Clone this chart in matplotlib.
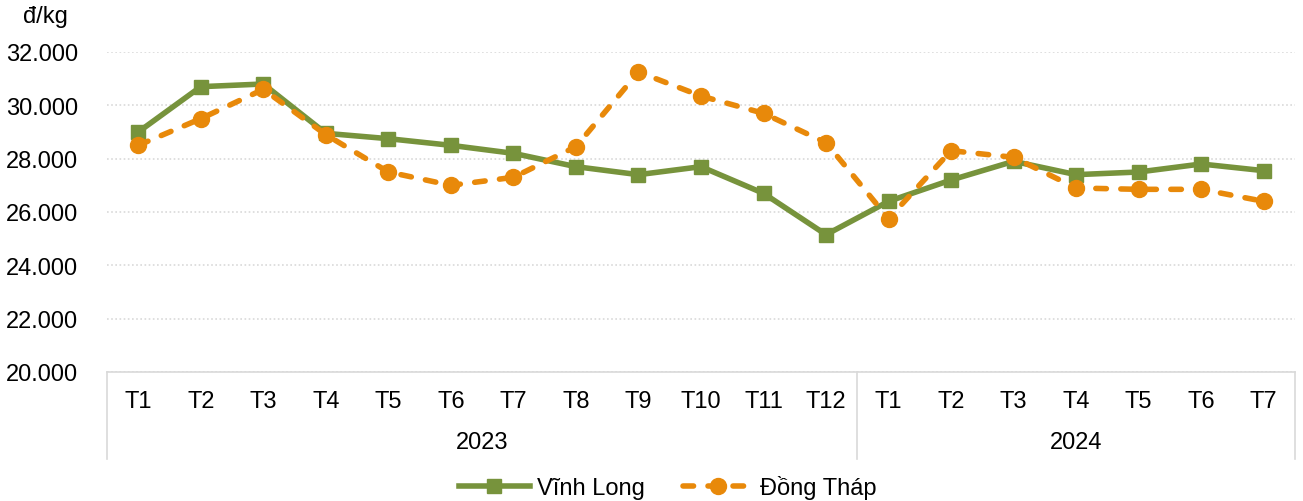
import matplotlib
matplotlib.use("Agg")
import matplotlib.pyplot as plt
from matplotlib.ticker import FuncFormatter
from matplotlib.lines import Line2D

plt.rcParams['font.family'] = ['Liberation Sans', 'DejaVu Sans']

months = ["T1", "T2", "T3", "T4", "T5", "T6", "T7", "T8", "T9", "T10", "T11", "T12",
          "T1", "T2", "T3", "T4", "T5", "T6", "T7"]
years = ["2023", "2024"]
year_counts = [12, 7]

vinh_long = [29000, 30700, 30800, 28950, 28750, 28500, 28200, 27700, 27400, 27700, 26700, 25150,
             26400, 27200, 27900, 27400, 27500, 27800, 27550]
dong_thap = [28500, 29500, 30600, 28900, 27500, 27000, 27300, 28450, 31250, 30350, 29700, 28600,
             25750, 28300, 28050, 26900, 26850, 26850, 26400]

green = "#77933C"
orange = "#E8890A"
grid_c = "#D9D9D9"
FS = 17
LW = 4.0
DASH = (0, (1.9, 2.6))

W, H = 1303, 502
fig = plt.figure(figsize=(W / 100, H / 100), dpi=100)
left, right, top, bottom = 107, 1295, 53, 373
ax = fig.add_axes([left / W, 1 - bottom / H, (right - left) / W, (bottom - top) / H])

x = list(range(len(months)))
ax.plot(x, vinh_long, color=green, lw=LW, marker="s", ms=10, mec=green, mfc=green,
        label="Vĩnh Long", zorder=3)
ax.plot(x, dong_thap, color=orange, lw=LW, ls=DASH, dash_capstyle="round",
        marker="o", ms=11.5, mec=orange, mfc=orange, label="Đồng Tháp", zorder=4)

ax.set_xlim(-0.5, len(months) - 0.5)
ax.set_ylim(20000, 32000)
ax.set_yticks(range(20000, 32001, 2000))
ax.yaxis.set_major_formatter(FuncFormatter(lambda v, p: f"{int(v):,}".replace(",", ".")))
ax.grid(axis="y", color=grid_c, ls=(0, (1, 1.5)), lw=1.2)
ax.set_axisbelow(True)
for s in ["left", "right", "top"]:
    ax.spines[s].set_visible(False)
ax.spines["bottom"].set_color(grid_c)
ax.spines["bottom"].set_linewidth(1.2)

ax.set_xticks(x)
ax.set_xticklabels(months)
ax.tick_params(axis="x", length=0, pad=13, labelsize=FS, colors="black")
ax.tick_params(axis="y", length=0, pad=21, labelsize=FS, colors="black")

# category group separators and year labels
tr = ax.get_xaxis_transform()
ylow = (bottom - 460) / (bottom - top)
start = 0
seps = [-0.5]
for yr, n in zip(years, year_counts):
    ax.text(start + (n - 1) / 2, (bottom - 443) / (bottom - top), yr, transform=tr,
            ha="center", va="center", fontsize=FS)
    start += n
    seps.append(start - 0.5)
for sx in seps:
    ax.plot([sx, sx], [0, ylow], transform=tr, color=grid_c, lw=1.2, clip_on=False)

fig.text(45 / W, 1 - 17 / H, "đ/kg", ha="center", va="center", fontsize=FS)

handles = [Line2D([], [], color=green, lw=LW, marker="s", ms=10),
           Line2D([], [], color=orange, lw=LW, ls=DASH, dash_capstyle="round",
                  marker="o", ms=11.5)]
fig.legend(handles, ["Vĩnh Long", "Đồng Tháp"], loc="center", bbox_to_anchor=(668 / W, 1 - 488 / H),
           ncol=2, frameon=False, fontsize=FS, handlelength=3.0, columnspacing=1.6,
           handletextpad=0.3, borderpad=0.2)

fig.savefig("out.png", dpi=100)
